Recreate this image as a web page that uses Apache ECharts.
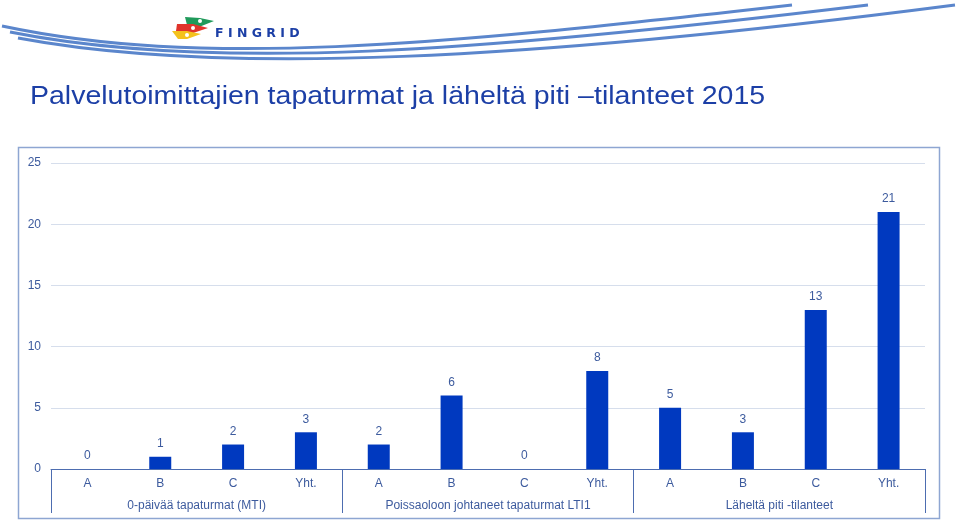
<!DOCTYPE html>
<html>
<head>
<meta charset="utf-8">
<script src="https://cdn.jsdelivr.net/npm/echarts@6/dist/echarts.min.js"></script>
<style>
html,body{margin:0;padding:0;background:#fff;}
#chart{width:960px;height:525px;}
</style>
</head>
<body>
<div id="chart"></div>
<script>
var title = 'Palvelutoimittajien tapaturmat ja läheltä piti \u2013tilanteet 2015';
var subCategories = ['A', 'B', 'C', 'Yht.'];
var groups = ['0-päivää tapaturmat (MTI)', 'Poissaoloon johtaneet tapaturmat LTI1', 'Läheltä piti -tilanteet'];
var mtiValues = [0, 1, 2, 3];
var ltiValues = [2, 6, 0, 8];
var nearMissValues = [5, 3, 13, 21];
var yMin = 0, yMax = 25, yStep = 5;

var categories = [];
groups.forEach(function () { subCategories.forEach(function (c) { categories.push(c); }); });
var values = mtiValues.concat(ltiValues, nearMissValues);

var textColor = '#3d5b9e';
var chart = echarts.init(document.getElementById('chart'));
chart.setOption({
  animation: false,
  textStyle: { fontFamily: 'Liberation Sans, Arial, sans-serif' },
  grid: { left: 51, right: 35, top: 163, bottom: 56, containLabel: false },
  xAxis: [
    {
      type: 'category', data: categories, position: 'bottom',
      axisLine: { lineStyle: { color: '#4d6db0', width: 1 } },
      axisTick: { show: false },
      axisLabel: { color: textColor, fontSize: 12, margin: 9, interval: 0 }
    },
    {
      type: 'category', data: groups, position: 'bottom',
      axisLine: { show: false },
      axisTick: { show: true, length: 44, lineStyle: { color: '#4d6db0', width: 1 } },
      axisLabel: { color: textColor, fontSize: 12, margin: 31, interval: 0 }
    }
  ],
  yAxis: {
    type: 'value', min: yMin, max: yMax, interval: yStep,
    axisLine: { show: false }, axisTick: { show: false },
    axisLabel: { color: textColor, fontSize: 12, margin: 10 },
    splitLine: { lineStyle: { color: '#d6deec', width: 1 } }
  },
  series: [{
    type: 'bar', data: values, xAxisIndex: 0, barWidth: 22,
    itemStyle: { color: '#0039bf' },
    label: { show: true, position: 'top', distance: 7, color: textColor, fontSize: 12 }
  }],
  graphic: [
    { type: 'rect', shape: { x: 18.5, y: 147.5, width: 921, height: 371 }, style: { fill: 'none', stroke: '#8ea6d2', lineWidth: 1.5 }, z: -1 },
    { type: 'text', x: 30, y: 85, scaleX: 1.14, style: { text: title, fill: '#1c3fa6', font: '25px "Liberation Sans", Arial, sans-serif' } },
    // swoosh lines
    { type: 'bezierCurve', shape: { x1: 2, y1: 26, cpx1: 200, cpy1: 68, cpx2: 430, cpy2: 46, x2: 792, y2: 5 }, style: { stroke: '#5b86cc', lineWidth: 3, fill: 'none' } },
    { type: 'bezierCurve', shape: { x1: 10, y1: 32, cpx1: 210, cpy1: 72, cpx2: 480, cpy2: 52, x2: 868, y2: 5 }, style: { stroke: '#5b86cc', lineWidth: 3, fill: 'none' } },
    { type: 'bezierCurve', shape: { x1: 18, y1: 38, cpx1: 220, cpy1: 76, cpx2: 530, cpy2: 60, x2: 955, y2: 5 }, style: { stroke: '#5b86cc', lineWidth: 3, fill: 'none' } },
    // logo flags
    { type: 'polygon', shape: { points: [[185, 17], [200, 18], [214, 21], [199, 27], [187, 25]] }, style: { fill: '#1f9a5a' } },
    { type: 'polygon', shape: { points: [[177, 24], [193, 24], [208, 28], [193, 33], [176, 31]] }, style: { fill: '#e0342b' } },
    { type: 'polygon', shape: { points: [[172, 31], [187, 31], [201, 34], [187, 39], [178, 39]] }, style: { fill: '#f4c21d' } },
    { type: 'circle', shape: { cx: 200, cy: 21, r: 2 }, style: { fill: '#fff' } },
    { type: 'circle', shape: { cx: 193, cy: 28, r: 2 }, style: { fill: '#fff' } },
    { type: 'circle', shape: { cx: 187, cy: 35, r: 2 }, style: { fill: '#fff' } },
    { type: 'text', left: 215, top: 27, style: { text: 'F I N G R I D', fill: '#1c3fa6', font: 'bold 12.5px "DejaVu Sans", sans-serif' } }
  ]
});
</script>
</body>
</html>
